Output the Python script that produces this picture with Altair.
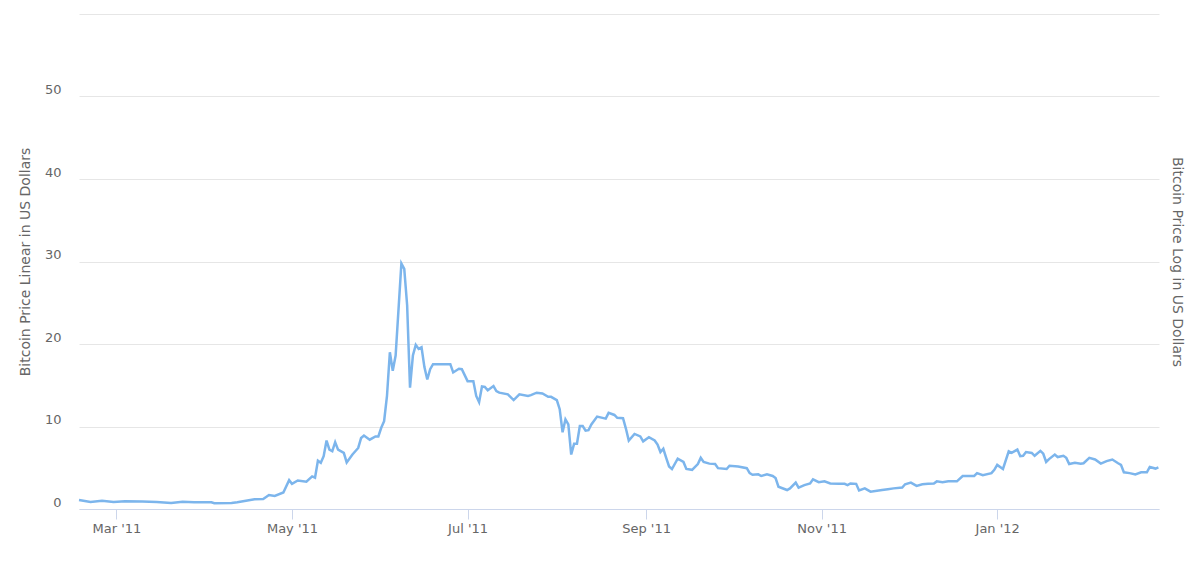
import altair as alt
import pandas as pd

dates = [
    "2011-02-16", "2011-02-20", "2011-02-24", "2011-02-28", "2011-03-04", "2011-03-10",
    "2011-03-15", "2011-03-20", "2011-03-24", "2011-03-28", "2011-04-03", "2011-04-04",
    "2011-04-10", "2011-04-12", "2011-04-15", "2011-04-18", "2011-04-21", "2011-04-23",
    "2011-04-25", "2011-04-28", "2011-04-30", "2011-05-01", "2011-05-03", "2011-05-06",
    "2011-05-08", "2011-05-09", "2011-05-10", "2011-05-11", "2011-05-12", "2011-05-13",
    "2011-05-14", "2011-05-15", "2011-05-16", "2011-05-17", "2011-05-19", "2011-05-20",
    "2011-05-22", "2011-05-24", "2011-05-25", "2011-05-26", "2011-05-28", "2011-05-30",
    "2011-05-31", "2011-06-01", "2011-06-02", "2011-06-03", "2011-06-04", "2011-06-05",
    "2011-06-06", "2011-06-08", "2011-06-09", "2011-06-10", "2011-06-11", "2011-06-12",
    "2011-06-13", "2011-06-14", "2011-06-15", "2011-06-16", "2011-06-17", "2011-06-18",
    "2011-06-19", "2011-06-25", "2011-06-26", "2011-06-28", "2011-06-29", "2011-07-01",
    "2011-07-03", "2011-07-04", "2011-07-05", "2011-07-06", "2011-07-07", "2011-07-08",
    "2011-07-10", "2011-07-11", "2011-07-12", "2011-07-15", "2011-07-17", "2011-07-19",
    "2011-07-22", "2011-07-23", "2011-07-25", "2011-07-27", "2011-07-29", "2011-07-30",
    "2011-08-01", "2011-08-02", "2011-08-03", "2011-08-04", "2011-08-05", "2011-08-06",
    "2011-08-07", "2011-08-08", "2011-08-09", "2011-08-10", "2011-08-11", "2011-08-12",
    "2011-08-13", "2011-08-15", "2011-08-18", "2011-08-19", "2011-08-21", "2011-08-22",
    "2011-08-24", "2011-08-25", "2011-08-26", "2011-08-28", "2011-08-30", "2011-08-31",
    "2011-09-02", "2011-09-04", "2011-09-05", "2011-09-06", "2011-09-07", "2011-09-08",
    "2011-09-09", "2011-09-10", "2011-09-12", "2011-09-14", "2011-09-15", "2011-09-17",
    "2011-09-19", "2011-09-20", "2011-09-21", "2011-09-23", "2011-09-25", "2011-09-26",
    "2011-09-29", "2011-09-30", "2011-10-03", "2011-10-06", "2011-10-07", "2011-10-08",
    "2011-10-10", "2011-10-11", "2011-10-13", "2011-10-15", "2011-10-16", "2011-10-17",
    "2011-10-20", "2011-10-21", "2011-10-23", "2011-10-24", "2011-10-26", "2011-10-28",
    "2011-10-29", "2011-10-31", "2011-11-02", "2011-11-04", "2011-11-07", "2011-11-09",
    "2011-11-10", "2011-11-11", "2011-11-13", "2011-11-14", "2011-11-16", "2011-11-18",
    "2011-11-22", "2011-11-24", "2011-11-26", "2011-11-29", "2011-11-30", "2011-12-02",
    "2011-12-04", "2011-12-06", "2011-12-08", "2011-12-10", "2011-12-11", "2011-12-13",
    "2011-12-15", "2011-12-18", "2011-12-20", "2011-12-24", "2011-12-25", "2011-12-27",
    "2011-12-30", "2011-12-31", "2012-01-01", "2012-01-03", "2012-01-05", "2012-01-06",
    "2012-01-08", "2012-01-09", "2012-01-10", "2012-01-11", "2012-01-13", "2012-01-14",
    "2012-01-16", "2012-01-17", "2012-01-18", "2012-01-19", "2012-01-21", "2012-01-22",
    "2012-01-24", "2012-01-25", "2012-01-26", "2012-01-28", "2012-01-30", "2012-01-31",
    "2012-02-02", "2012-02-04", "2012-02-06", "2012-02-08", "2012-02-10", "2012-02-12",
    "2012-02-13", "2012-02-14", "2012-02-16", "2012-02-18", "2012-02-20", "2012-02-22",
    "2012-02-23", "2012-02-25", "2012-02-26",
]

prices = [
    1.1, 0.85, 1.0, 0.85, 0.94, 0.9,
    0.85, 0.73, 0.89, 0.82, 0.82, 0.7,
    0.73, 0.82, 1.0, 1.18, 1.22, 1.7,
    1.58, 2.0, 3.5, 3.05, 3.45, 3.3,
    3.95, 3.8, 5.85, 5.6, 6.4, 8.3,
    7.2, 7.0, 8.1, 7.2, 6.8, 5.65,
    6.6, 7.4, 8.6, 8.9, 8.4, 8.8,
    8.8, 9.85, 10.65, 13.7, 19.0, 16.75,
    18.6, 29.75, 29.1, 24.7, 14.7, 18.6,
    19.9, 19.4, 19.6, 17.2, 15.7, 16.95,
    17.55, 17.55, 16.55, 17.0, 16.95, 15.5,
    15.5, 13.7, 12.95, 14.85, 14.8, 14.4,
    14.9, 14.3, 14.1, 13.9, 13.2, 13.9,
    13.7, 13.8, 14.1, 14.0, 13.6, 13.6,
    13.2, 12.1, 9.3, 10.85, 10.25, 6.6,
    7.9, 7.9, 10.05, 10.05, 9.5, 9.55,
    10.25, 11.2, 10.95, 11.65, 11.4, 11.05,
    11.0, 9.75, 8.3, 9.1, 8.8, 8.2,
    8.7, 8.3, 7.8, 6.9, 7.3, 6.2,
    5.15, 4.85, 6.1, 5.7, 4.85, 4.75,
    5.45, 6.2, 5.7, 5.5, 5.45, 4.95,
    4.85, 5.25, 5.15, 4.95, 4.35, 4.15,
    4.2, 4.0, 4.2, 4.0, 3.75, 2.7,
    2.3, 2.5, 3.2, 2.6, 2.9, 3.1,
    3.6, 3.25, 3.35, 3.1, 3.05, 3.05,
    2.9, 3.1, 3.05, 2.25, 2.5, 2.1,
    2.3, 2.4, 2.5, 2.6, 3.0, 3.2,
    2.8, 3.0, 3.05, 3.1, 3.35, 3.25,
    3.35, 3.35, 4.0, 4.0, 4.35, 4.1,
    4.35, 4.75, 5.35, 4.85, 7.0, 6.8,
    7.2, 6.4, 6.45, 6.9, 6.8, 6.45,
    7.05, 6.7, 5.7, 6.05, 6.6, 6.3,
    6.45, 6.2, 5.45, 5.6, 5.5, 5.55,
    6.2, 6.0, 5.5, 5.8, 6.0, 5.55,
    5.35, 4.45, 4.35, 4.2, 4.45, 4.45,
    5.1, 4.9, 5.05,
]

y_ticks = [0, 10, 20, 30, 40, 50, 60]
x_tick_months = [(2011, 3), (2011, 5), (2011, 7), (2011, 9), (2011, 11), (2012, 1)]

df = pd.DataFrame({"date": [d + "T00:00:00" for d in dates], "price": prices})

FONT = "DejaVu Sans"
GRAY = "#666666"

x_enc = alt.X(
    "date:T",
    scale=alt.Scale(
        domain=[alt.DateTime(year=2011, month=2, date=16),
                alt.DateTime(year=2012, month=2, date=26, hours=5)]
    ),
    axis=alt.Axis(
        title=None,
        values=[alt.DateTime(year=y, month=m, date=1) for y, m in x_tick_months],
        format="%b '%y",
        grid=False,
        domainColor="#ccd6eb",
        tickColor="#ccd6eb",
        tickSize=10,
        labelPadding=3,
        labelColor=GRAY,
        labelFont=FONT,
        labelFontSize=13,
        labelFlush=False,
    ),
)

line = alt.Chart(df).mark_line(color="#7cb5ec", strokeWidth=2.5).encode(
    x=x_enc,
    y=alt.Y(
        "price:Q",
        scale=alt.Scale(domain=[0, 60], nice=False),
        axis=alt.Axis(
            values=y_ticks,
            labelExpr="datum.value == 60 ? '' : datum.label",
            title="Bitcoin Price Linear in US Dollars",
            titleFont=FONT,
            titleFontSize=14,
            titleFontWeight="normal",
            titleColor=GRAY,
            titleAngle=270,
            titleX=-54,
            titleY=247.5,
            titleAlign="center",
            titleBaseline="middle",
            labelColor=GRAY,
            labelFont=FONT,
            labelFontSize=13,
            labelPadding=18,
            labelBaseline="alphabetic",
            labelOffset=-3,
            domain=False,
            ticks=False,
            grid=True,
            gridColor="#e6e6e6",
        ),
    ),
)

right = alt.Chart(df).mark_line(opacity=0).encode(
    x=x_enc,
    y=alt.Y(
        "price:Q",
        scale=alt.Scale(type="log"),
        axis=alt.Axis(
            orient="right",
            title="Bitcoin Price Log in US Dollars",
            titleFont=FONT,
            titleFontSize=14,
            titleFontWeight="normal",
            titleColor=GRAY,
            titleAngle=90,
            titleX=17,
            titleY=247.5,
            titleAlign="center",
            titleBaseline="middle",
            labels=False,
            ticks=False,
            domain=False,
            grid=False,
        ),
    ),
)

chart = (
    alt.layer(line, right)
    .resolve_scale(y="independent")
    .properties(
        width=1080,
        height=495,
        autosize=alt.AutoSizeParams(type="none"),
        padding={"left": 71, "top": 6, "right": 30, "bottom": 46},
    )
    .configure_view(strokeWidth=0)
)

chart.save("out.html", embed_options={"renderer": "svg", "actions": False})
